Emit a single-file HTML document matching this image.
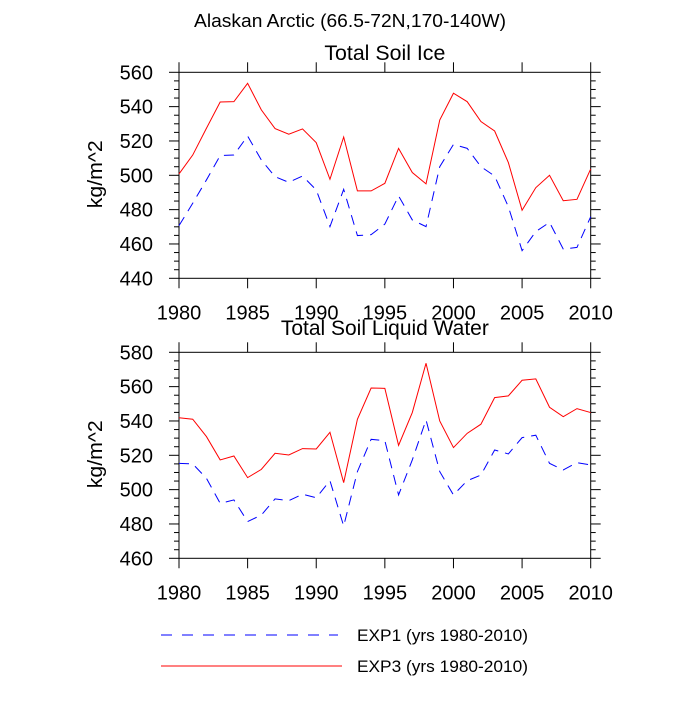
<!DOCTYPE html>
<html><head><meta charset="utf-8"><style>
html,body{margin:0;padding:0;background:#fff}
svg text{font-family:"Liberation Sans",Helvetica,sans-serif;fill:#000}
</style></head><body>
<svg id="c" width="700" height="700" xmlns="http://www.w3.org/2000/svg">
<text x="350" y="27" font-size="18" text-anchor="middle" textLength="312" lengthAdjust="spacingAndGlyphs">Alaskan Arctic (66.5-72N,170-140W)</text>
<g>
<line x1="161" y1="635" x2="338" y2="635" stroke="#0000ff" stroke-width="1" stroke-dasharray="11,10"/>
<text x="357" y="641" font-size="17" textLength="171" lengthAdjust="spacingAndGlyphs">EXP1 (yrs 1980-2010)</text>
<line x1="161" y1="666" x2="342" y2="666" stroke="#ff0000" stroke-width="1"/>
<text x="357" y="672" font-size="17" textLength="171" lengthAdjust="spacingAndGlyphs">EXP3 (yrs 1980-2010)</text>
</g>
</svg>
<script>
const years=[];for(let y=1980;y<=2010;y++)years.push(y);
const xTicks=[1980,1985,1990,1995,2000,2005,2010];
const iceExp3=[500.8,511.8,527.4,542.7,542.9,553.6,538.1,527.2,523.9,527,519,497.7,522.3,490.9,490.9,495.3,515.7,501.6,495,532.2,547.8,542.9,531.3,525.8,507.4,479.6,492.8,500,485.2,486,503.7];
const iceExp1=[470.7,483.7,497.3,511.5,511.8,522.9,508.9,499.2,495.9,499.6,491.5,470.1,491.8,464.9,465.4,471.6,488,474,470.1,505,518,515.7,505,499.6,481.7,456.1,467.2,472.6,457,458,475.9];
const iceTicks=[440,460,480,500,520,540,560];
const liqExp3=[541.9,541,530.9,517.3,519.6,507,511.8,521.2,520.2,523.9,523.7,533.4,504.1,541,559.2,559,525.8,544.9,573.6,540,524.5,532.8,538.1,553.6,554.6,563.7,564.5,548,542.5,547.2,544.9];
const liqExp1=[515.3,515,506.6,492,494,481.4,485.2,494.6,493.6,497.3,495.3,505.2,478.8,510.5,529.3,528.5,496.9,517.3,540.6,510.5,496.9,505.2,508.5,523.1,520.8,530.3,531.7,515.3,511.5,515.7,514.4];
const liqTicks=[460,480,500,520,540,560,580];

const svg=document.getElementById('c');
const NS='http://www.w3.org/2000/svg';
function mk(tag,attrs,parent){const e=document.createElementNS(NS,tag);for(const k in attrs)e.setAttribute(k,attrs[k]);parent.appendChild(e);return e;}

function panel(name,title,titleLen,titleY,top,ticks,exp1,exp3){
  const L=179,R=590.7,T=top,B=top+206;
  const ymin=ticks[0],ymax=ticks[ticks.length-1];
  const xs=v=>L+(v-1980)/(2010-1980)*(R-L);
  const ys=v=>B-(v-ymin)/(ymax-ymin)*(B-T);
  const g=mk('g',{},svg);
  
  
  const t=mk('text',{x:(L+R)/2,y:titleY,'font-size':21,'text-anchor':'middle',textLength:titleLen,lengthAdjust:'spacingAndGlyphs'},g);
  t.textContent=title;
  
  
  const yl=mk('text',{x:0,y:0,'font-size':20,'text-anchor':'middle',textLength:68,lengthAdjust:'spacingAndGlyphs',transform:`translate(102,${(T+B)/2-1}) rotate(-90)`},g);
  yl.textContent='kg/m^2';
  
  
  for(let v=ymin;v<=ymax;v+=5){
    const maj=(v-ymin)%20===0;const len=maj?10:5;const y=ys(v);
    const a=mk('line',{x1:L-len,y1:y,x2:L,y2:y,stroke:'#000','stroke-width':1},g);
    
    
    const b=mk('line',{x1:R,y1:y,x2:R+len,y2:y,stroke:'#000','stroke-width':1},g);
    
    
  }
  ticks.forEach(v=>{
    const tx=mk('text',{x:L-26,y:ys(v)+7,'font-size':20,'text-anchor':'end'},g);
    tx.textContent=v;
    
    
  });
  xTicks.forEach(v=>{
    const x=xs(v);
    const a=mk('line',{x1:x,y1:B,x2:x,y2:B+10,stroke:'#000','stroke-width':1},g);
    
    
    const b=mk('line',{x1:x,y1:T-10,x2:x,y2:T,stroke:'#000','stroke-width':1},g);
    
    
    const tx=mk('text',{x:x,y:B+41,'font-size':20,'text-anchor':'middle'},g);
    tx.textContent=v;
    
    
  });
  const fr=mk('rect',{x:L,y:T,width:R-L,height:B-T,fill:'none',stroke:'#000','stroke-width':1},g);
  
  
  const p3=mk('polyline',{points:exp3.map((v,i)=>xs(years[i])+','+ys(v)).join(' '),fill:'none',stroke:'#ff0000','stroke-width':1},g);
  
  
  const p1=mk('polyline',{points:exp1.map((v,i)=>xs(years[i])+','+ys(v)).join(' '),fill:'none',stroke:'#0000ff','stroke-width':1,'stroke-dasharray':'10,7'},g);
  
  
}
panel('soil-ice','Total Soil Ice',121,60,72.3,iceTicks,iceExp1,iceExp3);
panel('soil-liquid','Total Soil Liquid Water',208,335,352.3,liqTicks,liqExp1,liqExp3);
</script>
</body></html>
